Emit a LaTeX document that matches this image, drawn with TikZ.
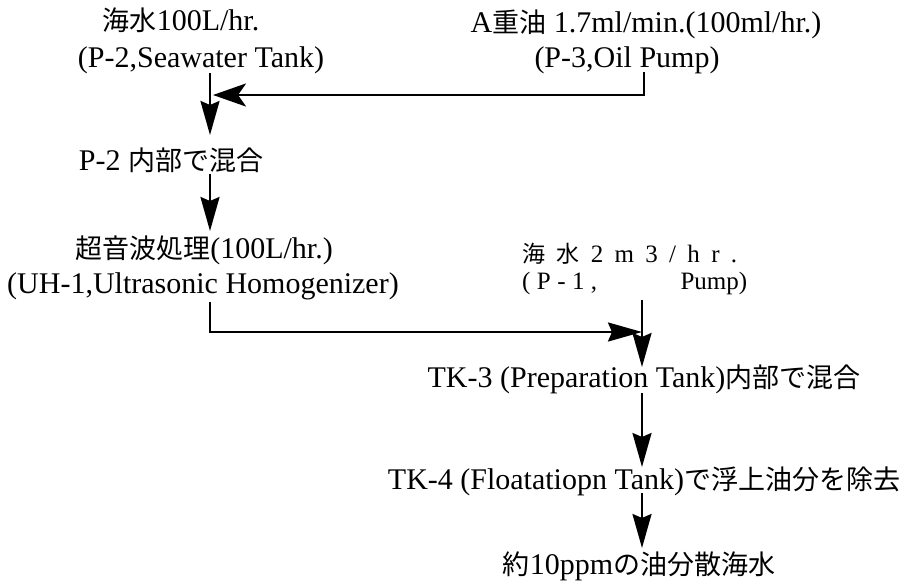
\documentclass[tikz,border=0pt]{standalone}
\usepackage{fontspec}
\setmainfont{Liberation Serif}
\newfontfamily\cjkfont{Noto Sans CJK JP}
\usetikzlibrary{arrows.meta}
\newcommand\jp[1]{{\cjkfont\fontsize{27}{32}\selectfont #1}}
\newcommand\jps[1]{{\cjkfont\fontsize{23}{27}\selectfont #1}}
\begin{document}
\begin{tikzpicture}[x=1pt,y=-1pt,
  lbl/.style={anchor=base, inner sep=0pt, font=\fontsize{30}{36}\selectfont},
  small/.style={anchor=base west, inner sep=0pt, font=\fontsize{25}{30}\selectfont},
  flow/.style={line width=2.4pt, -{Stealth[length=34pt,width=19pt,inset=4pt]}},
  hflow/.style={line width=2.8pt, -{Stealth[length=33pt,width=23pt,inset=8pt]}}]
\useasboundingbox[fill=white] (0,0) rectangle (924,581);

% text nodes
\node[lbl] (sw)   at (181,30)  {\jp{海水}100L/hr.};
\node[lbl] (swp)  at (201,67)  {(P-2,Seawater Tank)};
\node[lbl] (oil)  at (646,32)  {A\jp{重油} 1.7ml/min.(100ml/hr.)};
\node[lbl] (oilp) at (627,67)  {(P-3,Oil Pump)};
\node[lbl] (mix)  at (171,170) {P-2 \jp{内部で混合}};
\node[lbl] (uh)   at (204,258) {\jp{超音波処理}(100L/hr.)};
\node[lbl] (uhp)  at (203,293) {(UH-1,Ultrasonic Homogenizer)};
\node[small] (sea)  at (522,262) {\makebox[215pt][s]{\jps{海}\hfill\jps{水}\hfill 2\hfill m\hfill 3\hfill /\hfill h\hfill r\hfill .}};
\node[small] (seap) at (522,289) {\makebox[225pt][l]{\makebox[75pt][s]{(\hfill P\hfill -\hfill 1\hfill ,}\hfill Pump)}};
\node[lbl] (tk3)  at (644,387) {TK-3 (Preparation Tank)\jp{内部で混合}};
\node[lbl] (tk4)  at (644,489) {TK-4 (Floatatiopn Tank)\jp{で浮上油分を除去}};
\node[lbl] (out)  at (639,574) {\jp{約}10ppm\jp{の油分散海水}};

% connector end points
\coordinate (p2s)  at (210,73);
\coordinate (mixt) at (210,135);
\coordinate (p3s)  at (644,72);
\coordinate (p3c)  at (644,95);
\coordinate (p3t)  at (213,95);
\coordinate (mixs) at (210,174);
\coordinate (uht)  at (210,231);
\coordinate (uhs)  at (210,302);
\coordinate (uhc)  at (210,332);
\coordinate (uhe)  at (642,332);
\coordinate (p1s)  at (642,300);
\coordinate (tk3t) at (642,367);
\coordinate (tk3s) at (642,393);
\coordinate (tk4t) at (642,467);
\coordinate (tk4s) at (642,493);
\coordinate (outt) at (642,548);

% connectors
\draw[flow] (p2s) -- (mixt);
\draw[hflow] (p3s) -- (p3c) -- (p3t);
\draw[flow] (mixs) -- (uht);
\draw[flow] (uhs) -- (uhc) -- (uhe);
\draw[flow] (p1s) -- (tk3t);
\draw[flow] (tk3s) -- (tk4t);
\draw[flow] (tk4s) -- (outt);
\end{tikzpicture}
\end{document}
